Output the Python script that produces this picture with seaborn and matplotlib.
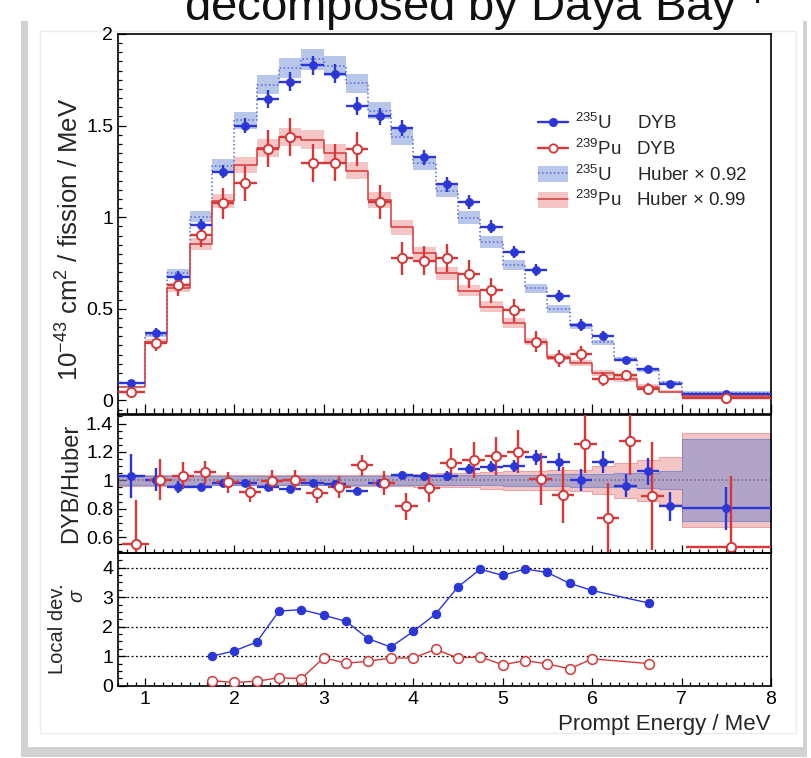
import numpy as np
import pandas as pd
import seaborn as sns
import matplotlib
matplotlib.use("Agg")
import matplotlib.pyplot as plt
from matplotlib.lines import Line2D
from matplotlib.patches import Patch, Rectangle
from matplotlib.legend_handler import HandlerTuple
from matplotlib.ticker import MultipleLocator, FuncFormatter
from matplotlib.colors import to_rgba

# ---------------- data ----------------
bin_edges = [0.7, 1.0, 1.25, 1.5, 1.75, 2.0, 2.25, 2.5, 2.75, 3.0, 3.25, 3.5, 3.75,
             4.0, 4.25, 4.5, 4.75, 5.0, 5.25, 5.5, 5.75, 6.0, 6.25, 6.5, 6.75, 7.0, 8.0]

u235_dyb = [0.097, 0.367, 0.676, 0.958, 1.249, 1.500, 1.644, 1.739, 1.829, 1.784,
            1.606, 1.551, 1.486, 1.327, 1.180, 1.082, 0.948, 0.811, 0.711, 0.569,
            0.412, 0.354, 0.221, 0.170, 0.091, 0.035]
u235_err = [0.015, 0.028, 0.028, 0.030, 0.036, 0.043, 0.048, 0.051, 0.052, 0.051,
            0.048, 0.047, 0.043, 0.041, 0.040, 0.038, 0.035, 0.033, 0.032, 0.033,
            0.031, 0.024, 0.018, 0.015, 0.011, 0.006]
pu239_dyb = [0.045, 0.316, 0.630, 0.903, 1.076, 1.185, 1.375, 1.438, 1.295, 1.298,
             1.374, 1.084, 0.776, 0.763, 0.778, 0.689, 0.601, 0.492, 0.321, 0.231,
             0.254, 0.117, 0.139, 0.065, np.nan, 0.012]
pu239_err = [0.023, 0.047, 0.058, 0.068, 0.083, 0.096, 0.102, 0.103, 0.103, 0.103,
             0.093, 0.093, 0.091, 0.080, 0.075, 0.077, 0.070, 0.064, 0.058, 0.047,
             0.042, 0.037, 0.028, 0.029, np.nan, 0.011]

u235_huber = [0.094, 0.355, 0.698, 1.003, 1.280, 1.528, 1.722, 1.817, 1.862, 1.823,
              1.732, 1.582, 1.437, 1.295, 1.145, 0.998, 0.865, 0.738, 0.612, 0.500,
              0.407, 0.317, 0.225, 0.164, 0.101, 0.039]
pu239_huber = [0.075, 0.320, 0.615, 0.854, 1.090, 1.284, 1.379, 1.437, 1.424, 1.349,
               1.254, 1.095, 0.944, 0.804, 0.694, 0.599, 0.512, 0.422, 0.321, 0.239,
               0.203, 0.149, 0.117, 0.076, 0.048, 0.022]
# relative half-width of Huber uncertainty bands
u235_band = [0.035, 0.03, 0.03, 0.03, 0.03, 0.03, 0.03, 0.03, 0.03, 0.03, 0.03, 0.03,
             0.03, 0.03, 0.032, 0.034, 0.036, 0.038, 0.04, 0.042, 0.045, 0.047, 0.05,
             0.053, 0.062, 0.29]
pu239_band = [0.04, 0.04, 0.038, 0.036, 0.035, 0.035, 0.035, 0.035, 0.035, 0.036, 0.038,
              0.04, 0.042, 0.045, 0.05, 0.05, 0.06, 0.065, 0.065, 0.07, 0.076, 0.1,
              0.123, 0.146, 0.167, 0.33]

# DYB / Huber ratios
u235_ratio = [1.027, 1.004, 0.952, 0.952, 0.98, 0.98, 0.952, 0.94, 0.98, 0.973, 0.926,
              0.98, 1.036, 1.027, 1.027, 1.08, 1.095, 1.10, 1.163, 1.128, 1.004, 1.128,
              0.961, 1.062, 0.816, 0.802]
u235_ratio_err = [0.155, 0.08, 0.04, 0.03, 0.028, 0.028, 0.028, 0.028, 0.028, 0.028,
                  0.028, 0.03, 0.03, 0.032, 0.035, 0.038, 0.04, 0.045, 0.053, 0.065,
                  0.076, 0.076, 0.082, 0.094, 0.105, 0.152]
pu239_ratio = [0.554, 1.004, 1.032, 1.055, 0.985, 0.919, 0.996, 1.001, 0.91, 0.952,
               1.107, 0.98, 0.816, 0.945, 1.12, 1.144, 1.172, 1.202, 1.008, 0.898,
               1.256, 0.732, 1.277, 0.891, np.nan, 0.528]
pu239_ratio_err = [0.31, 0.146, 0.094, 0.08, 0.076, 0.075, 0.074, 0.072, 0.072, 0.076,
                   0.074, 0.085, 0.096, 0.1, 0.108, 0.129, 0.136, 0.152, 0.181, 0.196,
                   0.205, 0.25, 0.24, 0.38, np.nan, 0.5]

# local deviation
ld_energy = [1.75, 2.0, 2.25, 2.5, 2.75, 3.0, 3.25, 3.5, 3.75, 4.0, 4.25, 4.5, 4.75,
             5.0, 5.25, 5.5, 5.75, 6.0, 6.64]
ld_u235 = [1.0, 1.18, 1.48, 2.53, 2.58, 2.39, 2.18, 1.59, 1.31, 1.84, 2.43, 3.35, 3.95,
           3.74, 3.96, 3.84, 3.47, 3.23, 2.80]
ld_pu239 = [0.17, 0.11, 0.15, 0.27, 0.24, 0.95, 0.76, 0.83, 0.94, 0.94, 1.23, 0.94, 0.98,
            0.71, 0.85, 0.74, 0.57, 0.91, 0.75]

legend_labels = ["$^{235}$U     DYB", "$^{239}$Pu   DYB",
                 "$^{235}$U     Huber $\\times$ 0.92", "$^{239}$Pu   Huber $\\times$ 0.99"]

# ---------------- style ----------------
sns.set_theme(style="ticks")
plt.rcParams["font.family"] = ["Liberation Sans", "DejaVu Sans"]
plt.rcParams["mathtext.fontset"] = "custom"
plt.rcParams["mathtext.rm"] = "Liberation Sans"
plt.rcParams["mathtext.it"] = "Liberation Sans:italic"
plt.rcParams["mathtext.bf"] = "Liberation Sans:bold"
plt.rcParams["mathtext.sf"] = "Liberation Sans"
plt.rcParams["axes.unicode_minus"] = True

BLUE = "#2a36d8"
BLUE_LINE = "#5566dd"
BLUE_BAND = "#4f74c9"
RED = "#d63838"
RED_BAND = "#e05a5a"

edges = np.array(bin_edges)
centers = 0.5 * (edges[:-1] + edges[1:])
half = 0.5 * (edges[1:] - edges[:-1])


def ext(a):
    a = np.asarray(a, dtype=float)
    return np.append(a, a[-1])


W, H = 812, 758
fig = plt.figure(figsize=(W / 100, H / 100), dpi=100)
fig.patch.set_facecolor("white")


def fx(x):
    return x / W


def fy(y):
    return 1 - y / H


# slide card decoration
fig.add_artist(Rectangle((fx(21), fy(757)), fx(807) - fx(21), fy(21) - fy(757),
                         transform=fig.transFigure, facecolor="#d2d2d2",
                         edgecolor="none", zorder=-5))
fig.add_artist(Rectangle((fx(28), fy(747)), fx(803) - fx(28), fy(21) - fy(747),
                         transform=fig.transFigure, facecolor="white",
                         edgecolor="none", zorder=-4))
fig.add_artist(Rectangle((fx(40), fy(733)), fx(796) - fx(40), fy(31) - fy(733),
                         transform=fig.transFigure, facecolor="none",
                         edgecolor="#ececec", lw=1.0, zorder=-3))
fig.text(fx(184), fy(21), "decomposed by Daya Bay $^{7}$", fontsize=34,
         ha="left", va="baseline", color="#111111")

L, R = 118, 771
axT = fig.add_axes([fx(L), fy(414), fx(R) - fx(L), fy(34) - fy(414)])
axR = fig.add_axes([fx(L), fy(552.7), fx(R) - fx(L), fy(415) - fy(552.7)], sharex=axT)
axB = fig.add_axes([fx(L), fy(685.7), fx(R) - fx(L), fy(553.3) - fy(685.7)], sharex=axT)

# ---------------- top panel ----------------
u_h = np.array(u235_huber)
p_h = np.array(pu239_huber)
axT.fill_between(edges, ext(u_h * (1 - np.array(u235_band))), ext(u_h * (1 + np.array(u235_band))),
                 step="post", facecolor=to_rgba(BLUE_BAND, 0.40), edgecolor="none", zorder=1)
axT.fill_between(edges, ext(p_h * (1 - np.array(pu239_band))), ext(p_h * (1 + np.array(pu239_band))),
                 step="post", facecolor=to_rgba(RED_BAND, 0.35), edgecolor="none", zorder=1)
sns.lineplot(x=edges, y=ext(u_h), drawstyle="steps-post", color=BLUE_LINE, lw=1.1,
             linestyle=(0, (1, 1.6)), ax=axT, estimator=None, sort=False, zorder=2, legend=False)
sns.lineplot(x=edges, y=ext(p_h), drawstyle="steps-post", color=RED, lw=1.1,
             ax=axT, estimator=None, sort=False, zorder=2, legend=False)

axT.errorbar(centers, u235_dyb, xerr=half, yerr=u235_err, fmt="none", ecolor=BLUE,
             elinewidth=1.7, capsize=0, zorder=3)
axT.errorbar(centers, pu239_dyb, xerr=half, yerr=pu239_err, fmt="none", ecolor=RED,
             elinewidth=1.7, capsize=0, zorder=3)
sns.scatterplot(x=centers, y=u235_dyb, color=BLUE, edgecolor=BLUE, s=34, linewidth=0.5,
                ax=axT, zorder=4, legend=False)
sns.scatterplot(x=centers, y=pu239_dyb, color="white", edgecolor=RED, s=44, linewidth=1.4,
                ax=axT, zorder=4, legend=False)

axT.set_ylim(-0.074, 2.0)
axT.set_xlim(0.7, 8.0)
axT.set_ylabel("10$^{\\mathregular{-43}}$ cm$^{2}$ / fission / MeV", fontsize=18.5, va="center")
axT.yaxis.set_label_coords(-0.0735, 0.46)

h1 = Line2D([], [], color=BLUE, lw=1.7, marker="o", ms=5.5, mfc=BLUE, mec=BLUE)
h2 = Line2D([], [], color=RED, lw=1.7, marker="o", ms=6, mfc="white", mec=RED, mew=1.3)
h3 = (Patch(facecolor=to_rgba(BLUE_BAND, 0.40), edgecolor="none"),
      Line2D([], [], color=BLUE_LINE, lw=1.1, linestyle=(0, (1, 1.6))))
h4 = (Patch(facecolor=to_rgba(RED_BAND, 0.35), edgecolor="none"),
      Line2D([], [], color=RED, lw=1.1))
axT.legend([h1, h2, h3, h4], legend_labels, loc="upper left",
           bbox_to_anchor=(0.643, 0.792), frameon=False, fontsize=13.5,
           borderpad=0, borderaxespad=0, handlelength=1.6, handleheight=0.9,
           handletextpad=0.4, labelspacing=0.3, numpoints=1,
           handler_map={tuple: HandlerTuple(ndivide=1, pad=0)})

# ---------------- ratio panel ----------------
ones = np.ones(len(edges))
rb = np.array(pu239_band)
ub = np.array(u235_band)
axR.fill_between(edges, ext(1 - rb), ext(1 + rb), step="post",
                 facecolor=to_rgba(RED_BAND, 0.35), edgecolor=to_rgba(RED_BAND, 0.45),
                 lw=0.8, zorder=1)
axR.fill_between(edges, ext(1 - ub), ext(1 + ub), step="post",
                 facecolor=to_rgba(BLUE_BAND, 0.40), edgecolor=to_rgba(BLUE_BAND, 0.55),
                 lw=0.8, zorder=1.5)
sns.lineplot(x=edges, y=ones, drawstyle="steps-post", color="#666a8c", lw=1.1,
             linestyle=(0, (1, 1.6)), ax=axR, estimator=None, sort=False, zorder=2, legend=False)

red_shift = 0.05
axR.errorbar(centers, u235_ratio, xerr=half, yerr=u235_ratio_err, fmt="none",
             ecolor=BLUE, elinewidth=1.7, capsize=0, zorder=3)
axR.errorbar(centers + red_shift, pu239_ratio, xerr=half, yerr=pu239_ratio_err, fmt="none",
             ecolor=RED, elinewidth=1.7, capsize=0, zorder=3)
sns.scatterplot(x=centers, y=u235_ratio, color=BLUE, edgecolor=BLUE, s=34, linewidth=0.5,
                ax=axR, zorder=4, legend=False)
sns.scatterplot(x=centers + red_shift, y=pu239_ratio, color="white", edgecolor=RED, s=44,
                linewidth=1.4, ax=axR, zorder=4, legend=False)
axR.set_ylim(0.49, 1.46)
axR.set_ylabel("DYB/Huber", fontsize=17, va="center")
axR.yaxis.set_label_coords(-0.072, 0.5)

# ---------------- local deviation panel ----------------
sns.lineplot(x=ld_energy, y=ld_u235, color=BLUE, lw=1.0, marker="o", markersize=6,
             mec=BLUE, mew=0.8, ax=axB, estimator=None, sort=False, legend=False, zorder=3)
sns.lineplot(x=ld_energy, y=ld_pu239, color=RED, lw=1.0, marker="o", markersize=7,
             markerfacecolor="white", mec=RED, mew=1.1, ax=axB, estimator=None, sort=False,
             legend=False, zorder=3)
axB.set_ylim(0, 4.49)
for yv in [1, 2, 3, 4]:
    axB.axhline(yv, color="black", lw=0.9, ls=(0, (1.5, 2)), zorder=1)
axB.set_ylabel("Local dev.\n$\\sigma$  ", fontsize=14.5, va="center", multialignment="right",
               linespacing=1.1)
axB.yaxis.set_label_coords(-0.077, 0.43)
axB.set_xlabel("Prompt Energy / MeV", fontsize=16, ha="right")
axB.xaxis.set_label_coords(1.0, -0.21)

# ---------------- axes styling ----------------
fmt = FuncFormatter(lambda v, p: f"{v:g}")
for ax in (axT, axR, axB):
    for sp in ax.spines.values():
        sp.set_linewidth(1.2)
        sp.set_color("black")
        sp.set_visible(True)
    ax.xaxis.set_major_locator(MultipleLocator(1))
    ax.xaxis.set_minor_locator(MultipleLocator(0.1))
    ax.tick_params(which="both", direction="in", top=False, right=False,
                   colors="black", labelsize=14, width=0.9)
    ax.tick_params(which="major", length=6)
    ax.tick_params(which="minor", length=3)
    ax.yaxis.set_major_formatter(fmt)
    ax.grid(False)
    ax.set_facecolor("none")

axT.tick_params(axis="x", which="major", length=7.5)
axT.tick_params(axis="x", which="minor", length=4)
axT.yaxis.set_major_locator(MultipleLocator(0.5))
axT.yaxis.set_minor_locator(MultipleLocator(0.05))
axR.yaxis.set_major_locator(MultipleLocator(0.2))
axR.yaxis.set_minor_locator(MultipleLocator(0.05))
axB.yaxis.set_major_locator(MultipleLocator(1))
axB.yaxis.set_minor_locator(MultipleLocator(0.25))
axB.xaxis.set_major_formatter(fmt)
axT.tick_params(axis="x", labelbottom=False)
axR.tick_params(axis="x", labelbottom=False)
axT.set_xlabel("")
axR.set_xlabel("")
axT.set_xlim(0.7, 8.0)

fig.savefig("out.png", dpi=100, facecolor="white")
